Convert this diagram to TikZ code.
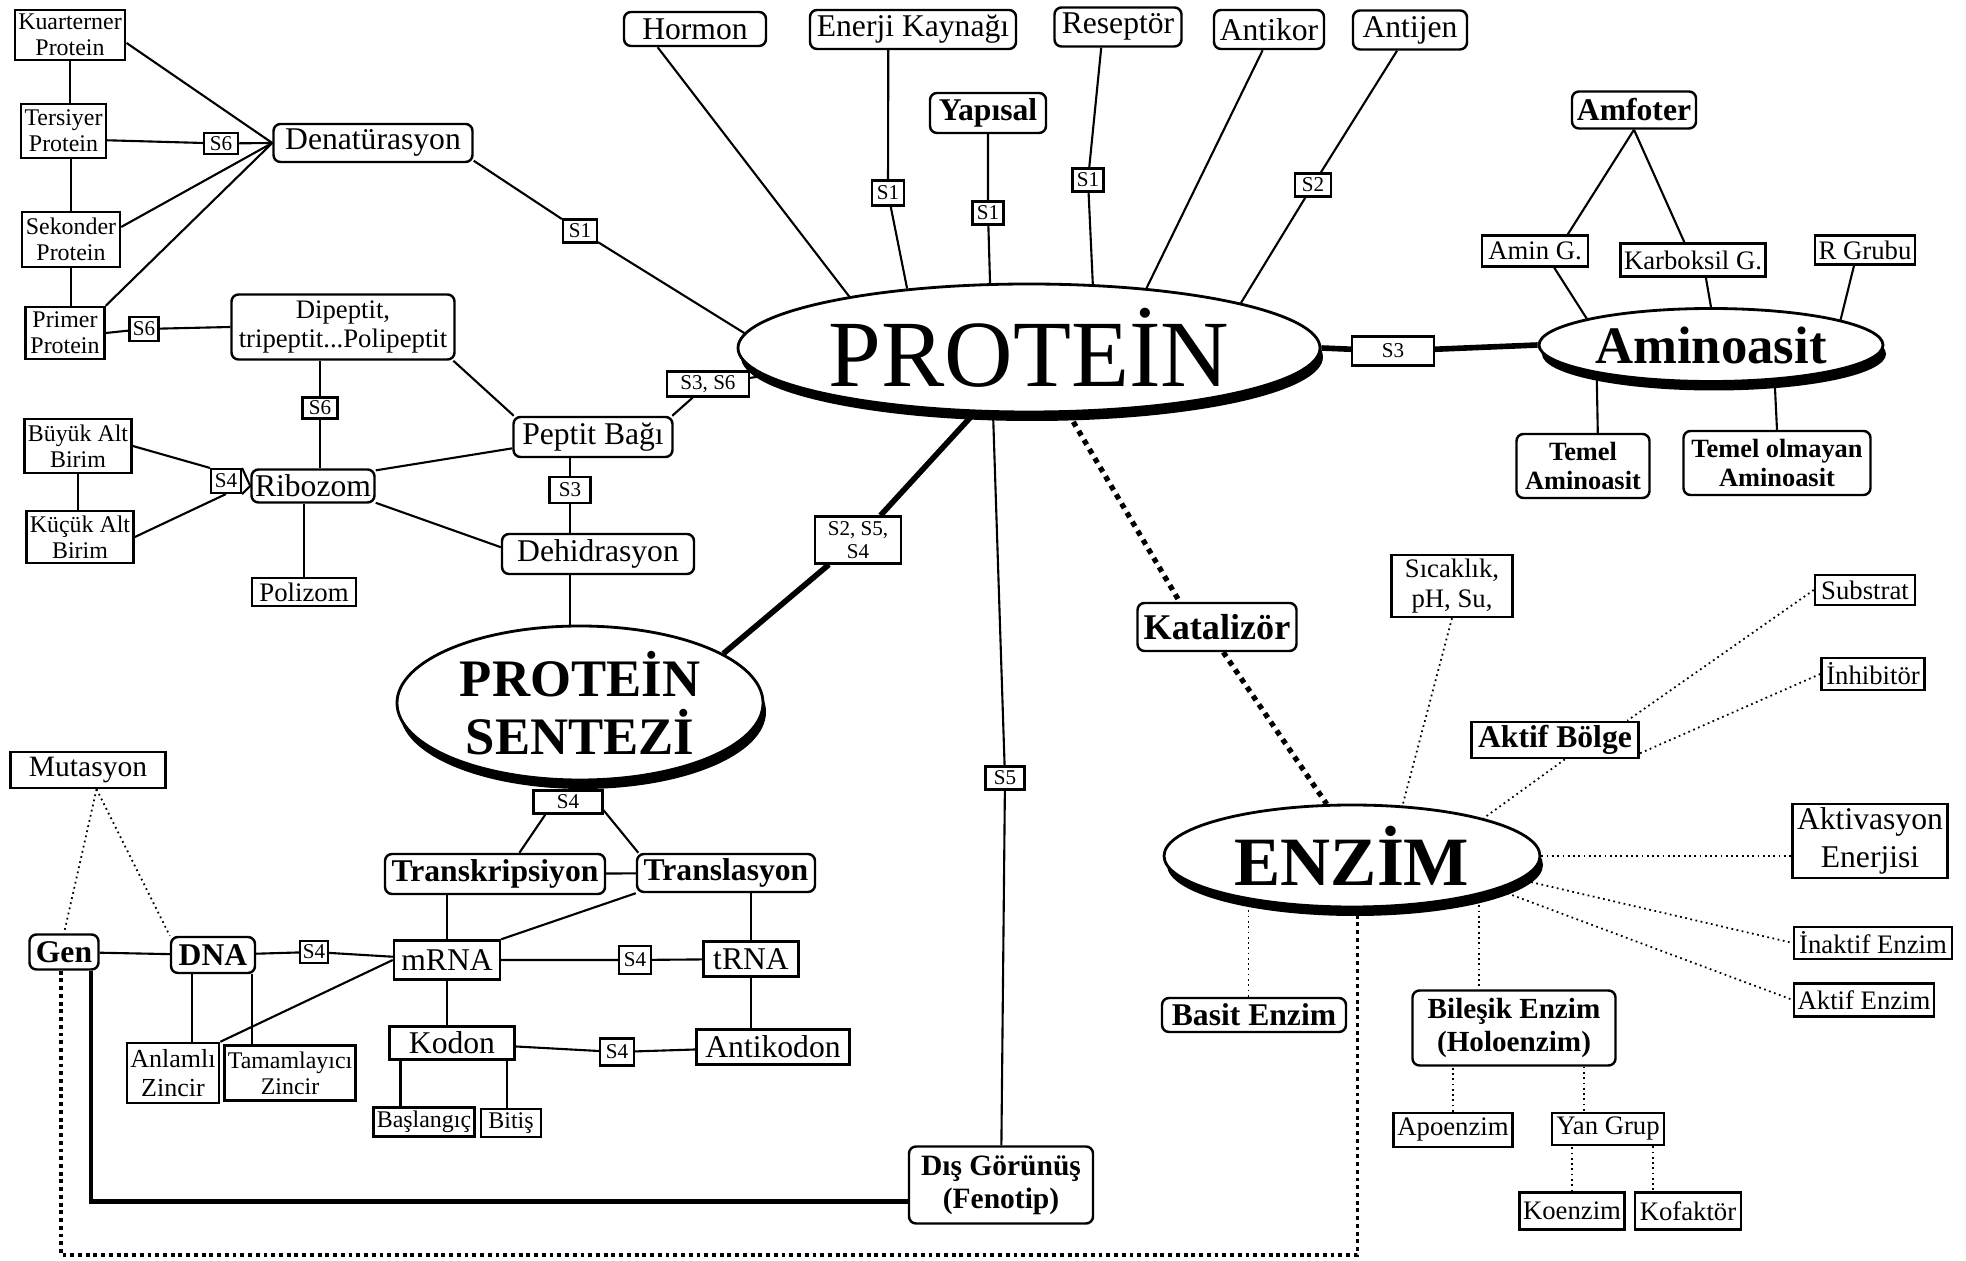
\documentclass[tikz,border=0pt]{standalone}
\usepackage{fontspec}
\setmainfont{Liberation Serif}
\usepackage{tikz}
\usetikzlibrary{shapes.geometric, shadows}
\tikzset{
  %% square-cornered box
  sbox/.style={
    rectangle, draw=black, fill=white,
    line width=0.7pt, inner sep=1pt, align=center,
    font=\fontsize{9}{9.9}\selectfont
  },
  %% rounded box
  rbox/.style={sbox, rounded corners=0.7mm},
  %% bold rounded box
  bbox/.style={rbox, font=\fontsize{9}{9.9}\selectfont\bfseries},
  %% small S-label sitting on a link
  slab/.style={sbox, line width=0.6pt, inner sep=0.5pt,
               font=\fontsize{6}{6.5}\selectfont},
  %% box size, in mm
  sz/.style 2 args={minimum width=#1mm, minimum height=#2mm},
  %% smaller texts
  f68/.style={font=\fontsize{6.8}{7.4}\selectfont},
  f76/.style={font=\fontsize{7.6}{8.3}\selectfont},
  %% main ellipse with a black shadow
  blob/.style={
    ellipse, draw=black, fill=white, line width=0.8pt, inner sep=0pt,
    align=center,
    drop shadow={shadow xshift=0.3mm, shadow yshift=-0.9mm,
                 opacity=1, fill=black}
  },
  %% links
  lnk/.style={draw=black, line width=0.6pt},
  hlnk/.style={draw=black, line width=1.6pt},
  dlnk/.style={draw=black, line width=0.5pt, dash pattern=on 0.5pt off 1pt},
  hdlnk/.style={draw=black, line width=1.5pt, dash pattern=on 1.5pt off 1.5pt},
}

\begin{document}
\begin{tikzpicture}[x=0.1mm, y=-0.1mm]
  \useasboundingbox (0,0) rectangle (1966,1261);

  %% main ellipses
  \node[blob, sz={58.2}{12.8}, font=\fontsize{27}{30}\selectfont] (prot)
       at (1029,348) {PROTEİN};
  \node[blob, sz={36.6}{15.4}, font=\fontsize{15}{16.5}\selectfont\bfseries] (sent)
       at (580,703) {PROTEİN\\SENTEZİ};
  \node[blob, sz={37.6}{10.2}, font=\fontsize{19.7}{21}\selectfont\bfseries] (enz)
       at (1352,856) {ENZİM};
  \node[blob, sz={34.4}{7.3}, font=\fontsize{15}{16.5}\selectfont\bfseries] (amino)
       at (1711,345) {Aminoasit};

  %% top row
  \node[rbox, sz={14.2}{3.4}] (hormon)  at (695,29)   {Hormon};
  \node[rbox, sz={20.6}{3.9}] (enerji)  at (913,29.5) {Enerji Kaynağı};
  \node[bbox, sz={11.6}{4.0}] (yapisal) at (988,113)  {Yapısal};
  \node[rbox, sz={12.7}{3.9}] (resep)   at (1118,27)  {Reseptör};
  \node[rbox, sz={11.0}{3.9}] (antikor) at (1269,29.5) {Antikor};
  \node[rbox, sz={11.4}{3.9}] (antijen) at (1410,30)  {Antijen};
  \node[slab, sz={3.2}{2.5}] (s1a) at (888,193)  {S1};
  \node[slab, sz={3.1}{2.3}] (s1b) at (988,213)  {S1};
  \node[slab, sz={3.1}{2.3}] (s1c) at (1088,180) {S1};
  \node[slab, sz={3.6}{2.3}] (s2a) at (1313,185) {S2};

  %% protein structure / peptide side
  \node[sbox, f68, sz={10.8}{5.0}] (kuar) at (70,35)    {Kuarterner\\Protein};
  \node[sbox, f68, sz={8.5}{5.4}]  (ters) at (63.5,131) {Tersiyer\\Protein};
  \node[sbox, f68, sz={9.8}{5.5}]  (sek)  at (71,239.5) {Sekonder\\Protein};
  \node[sbox, f68, sz={7.9}{5.2}]  (prim) at (65,333)   {Primer\\Protein};
  \node[rbox, sz={19.9}{3.8}] (denat) at (373,143) {Denatürasyon};
  \node[slab, sz={3.4}{2.1}] (s6a) at (221,143.5) {S6};
  \node[slab, sz={3.4}{2.3}] (s1d) at (580,231)   {S1};
  \node[rbox, f76, sz={22.3}{6.5}] (dipep) at (343,327)
       {Dipeptit,\\tripeptit...Polipeptit};
  \node[slab, sz={2.9}{2.4}] (s6b) at (144,329) {S6};
  \node[slab, sz={3.5}{2.1}] (s6c) at (320,408) {S6};
  \node[rbox, sz={15.9}{4.0}] (peptit) at (593,437) {Peptit Bağı};
  \node[slab, sz={8.2}{2.5}] (s3s6) at (708,384) {S3, S6};
  \node[slab, sz={4.1}{2.6}] (s3a)  at (570,490) {S3};
  \node[rbox, sz={19.2}{4.0}] (dehid) at (598,554) {Dehidrasyon};
  \node[rbox, sz={12.2}{3.3}] (ribo)  at (313,486) {Ribozom};
  \node[sbox, f76, sz={10.4}{2.8}] (poli)  at (304,592) {Polizom};
  \node[sbox, f68, sz={10.6}{5.4}] (buyuk) at (78,446)  {Büyük Alt\\Birim};
  \node[sbox, f68, sz={10.5}{5.2}] (kucuk) at (80,537)  {Küçük Alt\\Birim};
  \node[slab, sz={3.0}{2.4}] (s4a) at (226,481) {S4};

  %% middle
  \node[slab, sz={8.6}{4.7}] (s254) at (858,540) {S2, S5,\\S4};
  \node[slab, sz={3.9}{2.3}] (s5)   at (1005,778) {S5};
  \node[bbox, sz={15.9}{4.8}, font=\fontsize{10.3}{11}\selectfont\bfseries] (katal)
       at (1217,627) {Katalizör};
  \node[bbox, sz={18.4}{7.7}, font=\fontsize{8.4}{9.4}\selectfont\bfseries] (fenot)
       at (1001,1185) {Dış Görünüş\\(Fenotip)};

  %% amino acid side
  \node[bbox, sz={12.4}{3.7}] (amfot) at (1634,110) {Amfoter};
  \node[sbox, f76, sz={10.6}{3.1}] (aming) at (1535,251) {Amin G.};
  \node[sbox, f76, sz={14.3}{3.3}] (karbg) at (1693,260) {Karboksil G.};
  \node[sbox, f76, sz={9.8}{2.9}]  (rgrup) at (1865,250) {R Grubu};
  \node[slab, sz={8.2}{2.9}] (s3b) at (1393,351) {S3};
  \node[rbox, sz={13.3}{6.4}, font=\fontsize{7.5}{8.5}\selectfont\bfseries] (temel)
       at (1583,466) {Temel\\Aminoasit};
  \node[rbox, sz={18.7}{6.4}, font=\fontsize{7.5}{8.5}\selectfont\bfseries] (temelo)
       at (1777,463) {Temel olmayan\\Aminoasit};

  %% synthesis side
  \node[sbox, sz={15.5}{3.6}, font=\fontsize{8.4}{9}\selectfont] (mutas)
       at (88,770) {Mutasyon};
  \node[bbox, sz={6.9}{3.5}] (gen) at (64,952)  {Gen};
  \node[bbox, sz={8.4}{3.6}] (dna) at (213,955) {DNA};
  \node[slab, sz={2.8}{2.2}] (s4b) at (314,952) {S4};
  \node[sbox, sz={10.6}{3.9}] (mrna) at (447,960) {mRNA};
  \node[slab, sz={3.2}{2.8}] (s4c) at (635,960) {S4};
  \node[sbox, sz={9.5}{3.5}] (trna) at (751,959) {tRNA};
  \node[bbox, sz={22.0}{4.0}] (transk) at (495,874) {Transkripsiyon};
  \node[bbox, sz={17.8}{3.8}] (transl) at (726,873) {Translasyon};
  \node[slab, sz={6.9}{2.3}] (s4e) at (568,802) {S4};
  \node[sbox, sz={12.5}{3.3}] (kodon) at (452,1043) {Kodon};
  \node[slab, sz={3.4}{2.7}] (s4d) at (617,1052) {S4};
  \node[sbox, sz={15.3}{3.5}] (antik) at (773,1047) {Antikodon};
  \node[sbox, sz={9.0}{6.0}, font=\fontsize{7.4}{8.2}\selectfont] (anlam)
       at (173,1073) {Anlamlı\\Zincir};
  \node[sbox, f68, sz={13.0}{5.5}] (tamam) at (290,1073) {Tamamlayıcı\\Zincir};
  \node[sbox, f68, sz={9.8}{2.7}] (basla) at (424,1122) {Başlangıç};
  \node[sbox, f68, sz={6.0}{2.8}] (bitis) at (511,1123) {Bitiş};

  %% enzyme side
  \node[sbox, f76, sz={12.1}{6.2}] (sicak) at (1452,586) {Sıcaklık,\\pH, Su,};
  \node[sbox, f76, sz={10.0}{3.0}] (subst) at (1865,590) {Substrat};
  \node[sbox, f76, sz={10.3}{3.2}] (inhib) at (1873,674) {İnhibitör};
  \node[sbox, sz={16.7}{3.5}, font=\fontsize{9}{9.9}\selectfont\bfseries] (aktifb)
       at (1555,740) {Aktif Bölge};
  \node[sbox, sz={15.5}{7.2}, font=\fontsize{9}{10.8}\selectfont] (aktiv)
       at (1870,841) {Aktivasyon\\Enerjisi};
  \node[sbox, f76, sz={15.8}{3.2}] (inakt)  at (1873,943)  {İnaktif Enzim};
  \node[sbox, f76, sz={13.8}{3.3}] (aktife) at (1864,1000) {Aktif Enzim};
  \node[bbox, sz={18.4}{3.4}] (basit) at (1254,1015) {Basit Enzim};
  \node[bbox, sz={20.3}{7.5}, font=\fontsize{8.3}{9.4}\selectfont\bfseries] (biles)
       at (1514,1028) {Bileşik Enzim\\(Holoenzim)};
  \node[sbox, f76, sz={11.9}{3.4}] (apoen) at (1453,1130) {Apoenzim};
  \node[sbox, f76, sz={11.2}{3.2}] (yangr) at (1608,1129) {Yan Grup};
  \node[sbox, f76, sz={10.3}{3.7}] (koenz) at (1572,1211) {Koenzim};
  \node[sbox, f76, sz={10.6}{3.7}] (kofak) at (1688,1211) {Kofaktör};

  %% links to PROTEIN
  \draw[lnk] (hormon.-154) -- (prot.164);
  \draw[lnk] (enerji.-140) -- (s1a) -- (prot.154);
  \draw[lnk] (yapisal) -- (s1b) -- (prot.121);
  \draw[lnk] (resep.-129) -- (s1c) -- (prot.45);
  \draw[lnk] (antikor.-107) -- (prot.27);
  \draw[lnk] (antijen) -- (s2a) -- (prot.12);
  \draw[lnk] (denat.-10) -- (s1d) -- (prot.177);
  \draw[lnk] (peptit.15) -- (s3s6) -- (prot.186);
  \draw[hlnk] (prot.-130) -- (s254) -- (sent.19);
  \draw[lnk] (prot.-119) -- (s5) -- (fenot);
  \draw[hdlnk] (prot.-59) -- (katal.146);
  \draw[hdlnk] (katal.-76) -- (enz.116);
  \draw[hlnk] (prot.east) -- (s3b) -- (amino.west);

  %% amino acid links
  \draw[lnk] (amfot.south) -- (aming.27);
  \draw[lnk] (amfot.south) -- (karbg.116);
  \draw[lnk] (aming.-41) -- (amino.168);
  \draw[lnk] (karbg.-54) -- (amino.north);
  \draw[lnk] (rgrup.-125) -- (amino.11);
  \draw[lnk] (amino.-166) -- (temel.66);
  \draw[lnk] (amino.-29) -- (temelo.north);

  %% structure / peptide links
  \draw[lnk] (kuar.-8) -- (denat.west);
  \draw[lnk] (ters.-12) -- (s6a) -- (denat.west);
  \draw[lnk] (sek.14) -- (denat.west);
  \draw[lnk] (prim.north east) -- (denat.west);
  \draw[lnk] (kuar.south) -- (kuar.south |- ters.north);
  \draw[lnk] (sek.north) -- (sek.north |- ters.south);
  \draw[lnk] (sek.south) -- (sek.south |- prim.north);
  \draw[lnk] (prim.east) -- (s6b) -- (dipep.west);
  \draw[lnk] (s6c) -- (s6c |- dipep.south);
  \draw[lnk] (s6c) -- (s6c |- ribo.north);
  \draw[lnk] (dipep.-17) -- (peptit.165);
  \draw[lnk] (peptit.-172) -- (ribo.14);
  \draw[lnk] (ribo.-15) -- (dehid.176);
  \draw[lnk] (s3a) -- (s3a |- peptit.south);
  \draw[lnk] (s3a) -- (s3a |- dehid.north);
  \draw[lnk] (s3a |- dehid.south) -- (s3a |- sent.north);
  \draw[lnk] (poli) -- (poli |- ribo.south);
  \draw[lnk] (buyuk.south) -- (buyuk.south |- kucuk.north);
  \draw[lnk] (buyuk.east) -- (s4a.north west);
  \draw[lnk] (kucuk.east) -- (s4a.south);
  \draw[lnk] (s4a.north east) -- (ribo.west);
  \draw[lnk] (s4a.south east) -- (ribo.west);

  %% synthesis links
  \draw[dlnk] (mutas.-66) -- (gen.north);
  \draw[dlnk] (mutas.-66) -- (dna.north west);
  \draw[lnk] (gen) -- (dna);
  \draw[lnk] (dna) -- (s4b) -- (mrna);
  \draw[lnk] (mrna) -- (s4c) -- (trna);
  \draw[lnk] (dna.-138) -- (dna.-138 |- anlam.north);
  \draw[lnk] (dna.-26) -- (dna.-26 |- tamam.north);
  \draw[lnk] (mrna.west) -- (anlam.north east);
  \draw[lnk] (mrna.north) -- (mrna.north |- transk.south);
  \draw[lnk] (transk) -- (transl);
  \draw[lnk] (transl.south west) -- (mrna.north east);
  \draw[lnk] (trna.north) -- (trna.north |- transl.south);
  \draw[lnk] (mrna.south) -- (mrna.south |- kodon.north);
  \draw[lnk] (trna.south) -- (trna.south |- antik.north);
  \draw[lnk] (kodon) -- (s4d) -- (antik);
  \draw[lnk] (kodon.-161) -- (kodon.-161 |- basla.north);
  \draw[lnk] (kodon.-18) -- (kodon.-18 |- bitis.north);
  \draw[lnk] (s4e.-151) -- (transk.41);
  \draw[lnk] (s4e.-13) -- (transl.167);
  \draw[lnk, line width=1.2pt] (gen.-35) -- (gen.-35 |- fenot.-170) -- (fenot.-170);
  \coordinate (dotcorner) at (63,1255);
  \draw[hdlnk, line width=1.1pt, dash pattern=on 1.1pt off 1.1pt]
       (gen.-100) |- (dotcorner) -| (enz.-84);

  %% enzyme links
  \draw[dlnk] (sicak.south) -- (enz.45);
  \draw[dlnk] (subst.west) -- (aktifb.15);
  \draw[dlnk] (inhib.west) -- (aktifb.-9);
  \draw[dlnk] (aktifb.-63) -- (enz.16);
  \draw[dlnk] (enz.east) -- (enz.east -| aktiv.west);
  \draw[dlnk] (enz.-8) -- (inakt.west);
  \draw[dlnk] (enz.-13) -- (aktife.west);
  \draw[dlnk] (enz.-157) -- (enz.-157 |- basit.north);
  \draw[dlnk] (enz.-17) -- (enz.-17 |- biles.north);
  \draw[dlnk] (apoen) -- (apoen |- biles.south);
  \draw[dlnk] (biles.-29) -- (biles.-29 |- yangr.north);
  \draw[dlnk] (koenz) -- (koenz |- yangr.south);
  \draw[dlnk] (yangr.-21) -- (yangr.-21 |- kofak.north);

\end{tikzpicture}
\end{document}
